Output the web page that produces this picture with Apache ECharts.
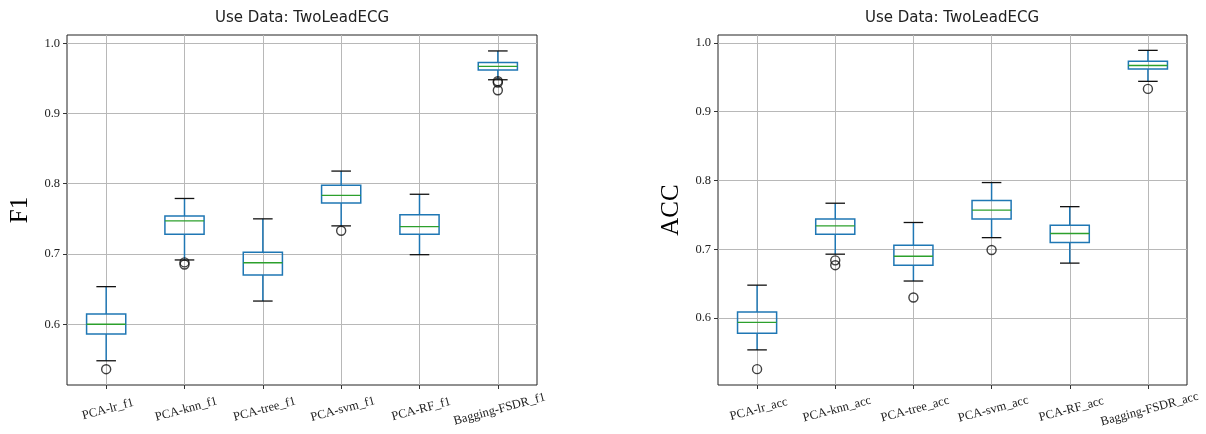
<!DOCTYPE html>
<html>
<head>
<meta charset="utf-8">
<script src="https://cdn.jsdelivr.net/npm/echarts@6/dist/echarts.min.js"></script>
<style>
  html, body { margin: 0; padding: 0; background: #fff; }
  #chart { width: 1206px; height: 434px; }
</style>
</head>
<body>
<div id="chart"></div>
<script>
// F1 scores (left panel)
const f1Categories = ['PCA-lr_f1', 'PCA-knn_f1', 'PCA-tree_f1', 'PCA-svm_f1', 'PCA-RF_f1', 'Bagging-FSDR_f1'];
const f1Lower  = [0.548, 0.6915, 0.633, 0.740, 0.699, 0.948];
const f1Q1     = [0.586, 0.728, 0.670, 0.7725, 0.728, 0.962];
const f1Median = [0.600, 0.747, 0.6875, 0.7835, 0.739, 0.967];
const f1Q3     = [0.6145, 0.754, 0.7025, 0.798, 0.756, 0.9725];
const f1Upper  = [0.6535, 0.779, 0.750, 0.818, 0.785, 0.989];
const f1Outliers = [[0, 0.536], [1, 0.688], [1, 0.685], [3, 0.733], [5, 0.946], [5, 0.944], [5, 0.933]];

// ACC scores (right panel)
const accCategories = ['PCA-lr_acc', 'PCA-knn_acc', 'PCA-tree_acc', 'PCA-svm_acc', 'PCA-RF_acc', 'Bagging-FSDR_acc'];
const accLower  = [0.554, 0.693, 0.654, 0.717, 0.680, 0.944];
const accQ1     = [0.578, 0.722, 0.677, 0.744, 0.710, 0.962];
const accMedian = [0.594, 0.734, 0.690, 0.757, 0.723, 0.967];
const accQ3     = [0.609, 0.744, 0.706, 0.771, 0.735, 0.973];
const accUpper  = [0.648, 0.767, 0.739, 0.797, 0.762, 0.989];
const accOutliers = [[0, 0.526], [1, 0.684], [1, 0.677], [2, 0.630], [3, 0.699], [5, 0.933]];

const yTicks = [0.6, 0.7, 0.8, 0.9, 1.0];
const titleText = 'Use Data: TwoLeadECG';

const BLUE = '#1f77b4';
const GREEN = '#2ca02c';
const SERIF = '"Liberation Serif", "Times New Roman", serif';

// one box per category, matplotlib style: blue box/whiskers, black caps, green median
function renderBox(params, api) {
  const i = api.value(0);
  const band = api.size([1, 0])[0];
  const half = band * 0.25;
  const capHalf = band * 0.125;
  const x = api.coord([i, api.value(3)])[0];
  const yLow = api.coord([i, api.value(1)])[1];
  const yQ1 = api.coord([i, api.value(2)])[1];
  const yMed = api.coord([i, api.value(3)])[1];
  const yQ3 = api.coord([i, api.value(4)])[1];
  const yHigh = api.coord([i, api.value(5)])[1];
  const blue = { stroke: BLUE, lineWidth: 1.5, fill: null };
  const cap = { stroke: '#111', lineWidth: 1.3 };
  return {
    type: 'group',
    children: [
      { type: 'line', shape: { x1: x, y1: yQ1, x2: x, y2: yLow }, style: blue },
      { type: 'line', shape: { x1: x, y1: yQ3, x2: x, y2: yHigh }, style: blue },
      { type: 'line', shape: { x1: x - capHalf, y1: yLow, x2: x + capHalf, y2: yLow }, style: cap },
      { type: 'line', shape: { x1: x - capHalf, y1: yHigh, x2: x + capHalf, y2: yHigh }, style: cap },
      { type: 'rect', shape: { x: x - half, y: yQ3, width: half * 2, height: yQ1 - yQ3 }, style: { stroke: BLUE, lineWidth: 1.5, fill: 'none' } },
      { type: 'line', shape: { x1: x - half, y1: yMed, x2: x + half, y2: yMed }, style: { stroke: GREEN, lineWidth: 1.3 } }
    ]
  };
}

function panel(idx, cats, lower, q1, med, q3, upper, outliers, yMin, yMax, yName) {
  const boxData = cats.map((c, i) => [i, lower[i], q1[i], med[i], q3[i], upper[i]]);
  return {
    xAxis: {
      type: 'category',
      gridIndex: idx,
      data: cats,
      boundaryGap: true,
      axisLine: { show: false },
      axisTick: { show: true, alignWithLabel: true, interval: 0, length: 4, lineStyle: { color: '#333' } },
      axisLabel: {
        interval: 0, rotate: 15, align: 'center', verticalAlign: 'top', margin: 18,
        fontFamily: SERIF, fontSize: 12.5, color: '#222'
      },
      splitLine: { show: true, alignWithLabel: true, interval: 0, lineStyle: { color: '#b8b8b8', width: 1 } }
    },
    yAxis: {
      type: 'value',
      gridIndex: idx,
      min: yMin,
      max: yMax,
      splitNumber: 5,
      name: yName,
      nameLocation: 'middle',
      nameRotate: 90,
      nameGap: 34,
      nameTextStyle: { fontFamily: SERIF, fontSize: 25, color: '#000' },
      axisLine: { show: false },
      axisTick: { show: true, length: 4, customValues: yTicks, lineStyle: { color: '#333' } },
      axisLabel: {
        customValues: yTicks, margin: 7,
        fontFamily: SERIF, fontSize: 12.5, color: '#222',
        formatter: v => v.toFixed(1)
      },
      splitLine: { show: true, lineStyle: { color: '#b8b8b8', width: 1 } }
    },
    series: [
      {
        type: 'custom',
        xAxisIndex: idx,
        yAxisIndex: idx,
        renderItem: renderBox,
        encode: { x: 0, y: [1, 2, 3, 4, 5] },
        data: boxData,
        z: 3
      },
      {
        type: 'scatter',
        xAxisIndex: idx,
        yAxisIndex: idx,
        symbol: 'circle',
        symbolSize: 9,
        itemStyle: { color: 'rgba(0,0,0,0)', borderColor: '#111', borderWidth: 1.4 },
        data: outliers,
        z: 4
      }
    ]
  };
}

const left = panel(0, f1Categories, f1Lower, f1Q1, f1Median, f1Q3, f1Upper, f1Outliers, 0.5135, 1.0117, 'F1');
const right = panel(1, accCategories, accLower, accQ1, accMedian, accQ3, accUpper, accOutliers, 0.503, 1.0113, 'ACC');

const chart = echarts.init(document.getElementById('chart'), null, { renderer: 'canvas' });
chart.setOption({
  animation: false,
  backgroundColor: '#fff',
  title: [
    { text: titleText, left: 302, top: 11, textAlign: 'center', padding: 0,
      textStyle: { fontFamily: '"DejaVu Sans", sans-serif', fontSize: 15, fontWeight: 'normal', color: '#222' } },
    { text: titleText, left: 952, top: 11, textAlign: 'center', padding: 0,
      textStyle: { fontFamily: '"DejaVu Sans", sans-serif', fontSize: 15, fontWeight: 'normal', color: '#222' } }
  ],
  grid: [
    { left: 67, right: 669, top: 35, bottom: 49, show: true, borderColor: '#222', borderWidth: 1, backgroundColor: 'transparent' },
    { left: 718, right: 19, top: 35, bottom: 49, show: true, borderColor: '#222', borderWidth: 1, backgroundColor: 'transparent' }
  ],
  xAxis: [left.xAxis, right.xAxis],
  yAxis: [left.yAxis, right.yAxis],
  series: left.series.concat(right.series)
});
</script>
</body>
</html>
